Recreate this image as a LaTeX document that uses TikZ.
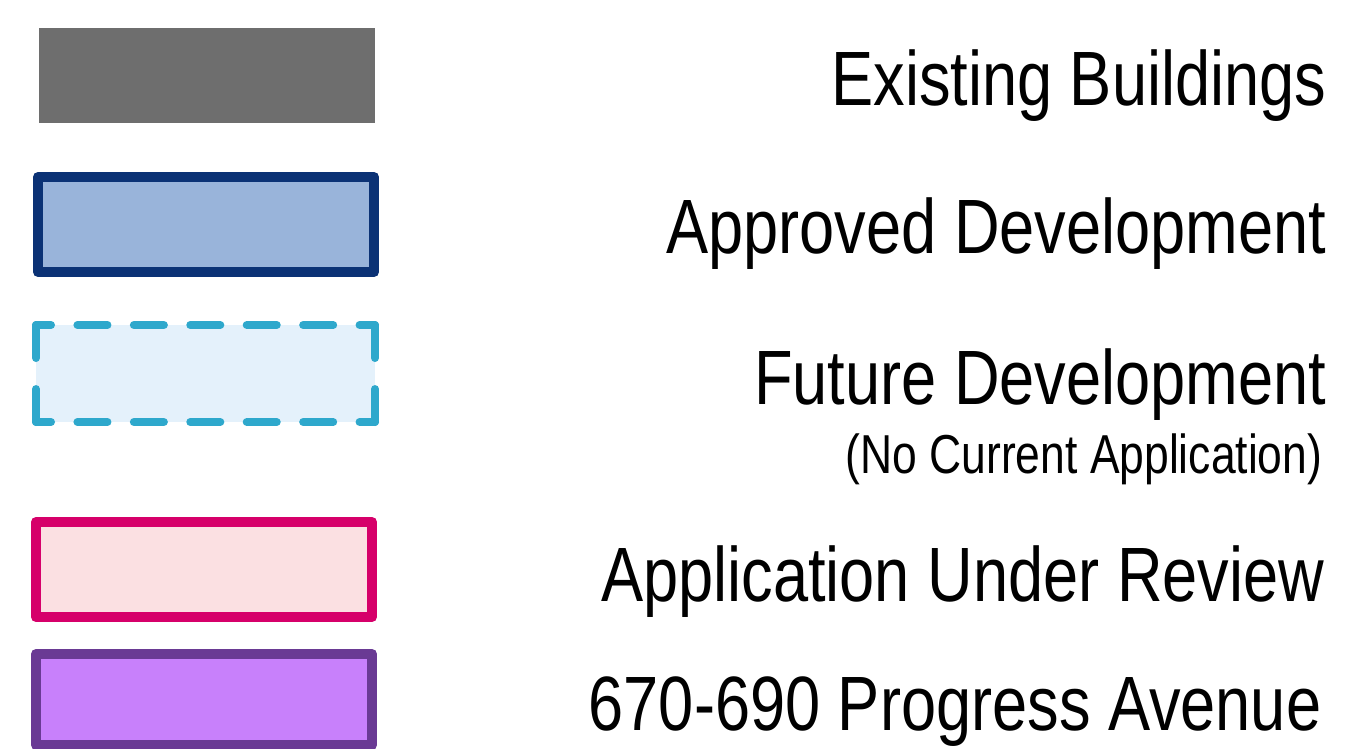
\documentclass[tikz,border=0pt]{standalone}
\usepackage{fontspec}
\newfontfamily\legfont[FakeStretch=0.82]{Liberation Sans}
\newfontfamily\subfont[FakeStretch=0.81]{Liberation Sans}
\definecolor{exgray}{HTML}{6E6E6E}
\definecolor{apstroke}{HTML}{0B3275}
\definecolor{apfill}{HTML}{99B4DA}
\definecolor{fustroke}{HTML}{2EA8CC}
\definecolor{fufill}{HTML}{E4F1FB}
\definecolor{rvstroke}{HTML}{D6006A}
\definecolor{rvfill}{HTML}{FBE0E2}
\definecolor{prstroke}{HTML}{6A3A94}
\definecolor{prfill}{HTML}{C880FB}
\tikzset{
  legtext/.style={anchor=base east, inner sep=0pt, font=\legfont\fontsize{21.9pt}{26pt}\selectfont},
  subtext/.style={anchor=base east, inner sep=0pt, font=\subfont\fontsize{15.6pt}{19pt}\selectfont},
  solidbox/.style={line width=0.1cm, line join=round},
  hdash/.style={draw=fustroke, line width=0.08cm, line cap=round, dash pattern=on 0.30cm off 0.264cm, dash phase=0.15cm},
  vdash/.style={draw=fustroke, line width=0.08cm, line cap=round, dash pattern=on 0.66cm off 0.31cm, dash phase=0.33cm}
}
\begin{document}
\begin{tikzpicture}[x=0.01cm,y=-0.01cm]
\useasboundingbox (0,0) rectangle (1346,748);
\fill[white] (0,0) rectangle (1346,748);
% Existing buildings
\fill[exgray] (39,28) rectangle (375,123);
% Approved development
\draw[solidbox, draw=apstroke, fill=apfill] (38,177) rectangle (374,272);
% Future development
\fill[fufill] (36,325) rectangle (375,422);
\coordinate (f1) at (36,325);
\coordinate (f2) at (375,325);
\coordinate (f3) at (375,422);
\coordinate (f4) at (36,422);
\draw[hdash] (f1) -- (f2);
\draw[hdash] (f4) -- (f3);
\draw[vdash] (f1) -- (f4);
\draw[vdash] (f2) -- (f3);
% Application under review
\draw[solidbox, draw=rvstroke, fill=rvfill] (36,522) rectangle (372,617);
% 670-690 Progress Avenue
\draw[solidbox, draw=prstroke, fill=prfill] (36,654) rectangle (372,745);
% Labels
\node[legtext] (t1) at (1327,105) {Existing Buildings};
\node[legtext] (t2) at (1327,253) {Approved Development};
\node[legtext] (t3) at (1327,404) {Future Development};
\node[subtext] (t3b) at (1323,473) {(No Current Application)};
\node[legtext] (t4) at (1325,601) {Application Under Review};
\node[legtext] (t5) at (1322,730) {670-690 Progress Avenue};
\end{tikzpicture}
\end{document}
